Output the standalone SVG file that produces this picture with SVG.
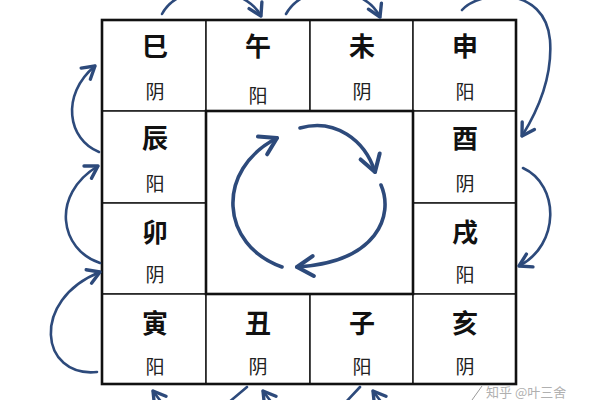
<svg xmlns="http://www.w3.org/2000/svg" width="600" height="400" viewBox="0 0 600 400">
<defs>
<marker id="ah" markerUnits="userSpaceOnUse" markerWidth="24" markerHeight="24" viewBox="-14 -10 18 20" refX="0" refY="0" orient="auto">
<path d="M-10,-6 L0,0 L-10,6" fill="none" stroke="#2d4a7b" stroke-width="2.8" stroke-linecap="round" stroke-linejoin="round"/>
</marker>
<marker id="ahc" markerUnits="userSpaceOnUse" markerWidth="30" markerHeight="30" viewBox="-16 -12 20 24" refX="0" refY="0" orient="auto">
<path d="M-13,-8 L0,0 L-13,8" fill="none" stroke="#2d4a7b" stroke-width="3.2" stroke-linecap="round" stroke-linejoin="round"/>
</marker>
</defs>
<style>
.cell{fill:#fff;stroke:#222;stroke-width:1.6}
.br{font-family:"Noto Sans CJK SC","Noto Sans CJK JP",sans-serif;font-size:26px;font-weight:bold;fill:#111;text-anchor:middle}
.yy{font-family:"Noto Sans CJK SC","Noto Sans CJK JP",sans-serif;font-size:19px;fill:#222;text-anchor:middle}
.arr{fill:none;stroke:#2d4a7b;stroke-width:2.6;stroke-linecap:round;marker-end:url(#ah)}
.arrt{fill:none;stroke:#2d4a7b;stroke-width:2.6;stroke-linecap:round}
.carr{fill:none;stroke:#2d4a7b;stroke-width:3.6;stroke-linecap:round;marker-end:url(#ahc)}
</style>
<rect width="600" height="400" fill="#fff"/>

<g id="si"><rect class="cell" x="102" y="20" width="104" height="91"/><text class="br" x="155" y="56">巳</text><text class="yy" x="155" y="99">阴</text></g>
<g id="wu"><rect class="cell" x="206" y="20" width="104" height="91"/><text class="br" x="258" y="56">午</text><text class="yy" x="258" y="103">阳</text></g>
<g id="wei"><rect class="cell" x="310" y="20" width="103" height="91"/><text class="br" x="362" y="56">未</text><text class="yy" x="362" y="99">阴</text></g>
<g id="shen"><rect class="cell" x="413" y="20" width="103" height="91"/><text class="br" x="465" y="56">申</text><text class="yy" x="465" y="99">阳</text></g>
<g id="chen"><rect class="cell" x="102" y="111" width="104" height="92"/><text class="br" x="155" y="148">辰</text><text class="yy" x="155" y="191">阳</text></g>
<g id="you"><rect class="cell" x="413" y="111" width="103" height="92"/><text class="br" x="465" y="148">酉</text><text class="yy" x="465" y="191">阴</text></g>
<g id="mao"><rect class="cell" x="102" y="203" width="104" height="91"/><text class="br" x="155" y="242">卯</text><text class="yy" x="155" y="282">阴</text></g>
<g id="xu"><rect class="cell" x="413" y="203" width="103" height="91"/><text class="br" x="465" y="242">戌</text><text class="yy" x="465" y="282">阳</text></g>
<g id="yin"><rect class="cell" x="102" y="294" width="104" height="90"/><text class="br" x="155" y="333">寅</text><text class="yy" x="155" y="374">阳</text></g>
<g id="chou"><rect class="cell" x="206" y="294" width="104" height="90"/><text class="br" x="258" y="333">丑</text><text class="yy" x="258" y="374">阴</text></g>
<g id="zi"><rect class="cell" x="310" y="294" width="103" height="90"/><text class="br" x="362" y="333">子</text><text class="yy" x="362" y="374">阳</text></g>
<g id="hai"><rect class="cell" x="413" y="294" width="103" height="90"/><text class="br" x="465" y="333">亥</text><text class="yy" x="465" y="374">阴</text></g>
<g id="center"><rect x="206" y="111" width="207" height="183" fill="none" stroke="#111" stroke-width="2.6"/></g>
<rect x="102" y="20" width="414" height="364" fill="none" stroke="#111" stroke-width="2.6"/>

<g id="connectors">
<path class="arr" d="M99,152 C68,140 60,95 95,66"/>
<path class="arr" d="M100,263 C60,250 50,195 98,166"/>
<path class="arr" d="M97,372 C40,378 30,300 100,272"/>
<path class="arr" d="M162,14 C180,-20 245,-15 261,16"/>
<path class="arr" d="M286,14 C305,-20 365,-15 380,17"/>
<path class="arr" d="M462,10 C480,-10 545,-15 550,40 C553,80 535,115 522,136"/>
<path class="arr" d="M523,168 C560,185 560,245 519,266"/>
<path class="arr" d="M382,403 L373,391"/>
<path class="arrt" d="M360,387 L345,403"/>
<path class="arr" d="M272,403 L263,391"/>
<path class="arrt" d="M247,387 L228,403"/>
<path class="arr" d="M162,403 L153,391"/>
<path class="carr" d="M300,128 C335,118 365,140 375,172"/>
<path class="carr" d="M381,185 C394,215 378,262 297,267"/>
<path class="carr" d="M282,267 C220,245 215,170 277,138"/>
</g>
<g id="watermark">
<path d="M482,386 L472,400" fill="none" stroke="#999" stroke-width="1"/>
<text x="486" y="397" font-family="'Noto Sans CJK SC',sans-serif" font-size="13" fill="#b0b0b0">知乎 @叶三舍</text>
</g>
</svg>
